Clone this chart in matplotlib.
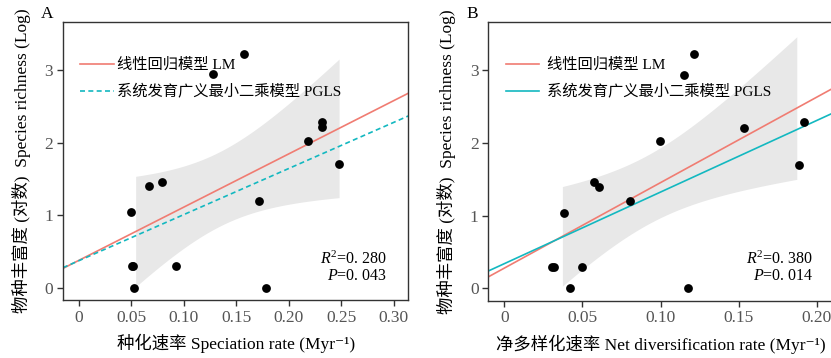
import numpy as np
import matplotlib
matplotlib.use("Agg")
import matplotlib.pyplot as plt
from matplotlib.lines import Line2D

plt.rcParams['font.family'] = ['Liberation Serif', 'Noto Sans CJK SC', 'DejaVu Serif']
plt.rcParams['mathtext.fontset'] = 'custom'
plt.rcParams['mathtext.rm'] = 'Liberation Serif'
plt.rcParams['mathtext.it'] = 'Liberation Serif:italic'

# ---- data ----
richness_log = [1.04, 0.30, 0.30, 0.00, 1.40, 1.46, 0.30, 2.94, 3.22, 1.20, 0.00, 2.02, 2.29, 2.21, 1.70]
speciation_rate = [0.0493, 0.0506, 0.0519, 0.0528, 0.0668, 0.0795, 0.0923, 0.1276, 0.1575,
                   0.1712, 0.1785, 0.2179, 0.2316, 0.2316, 0.2475]

richness_log_b = [0.30, 0.30, 1.04, 0.00, 0.30, 1.46, 1.40, 1.20, 2.02, 2.94, 0.00, 3.22, 2.21, 1.70, 2.29]
net_div_rate = [0.0306, 0.0319, 0.0383, 0.0419, 0.0498, 0.0577, 0.0604, 0.0802, 0.0994,
                0.1149, 0.1179, 0.1217, 0.1536, 0.1889, 0.1915]

# PGLS fits (intercept, slope)
pgls_a = (0.373, 6.35)
pgls_b = (0.339, 9.85)
# x-range of confidence band as drawn
band_range_a = (0.054, 0.248)
band_range_b = (0.0372, 0.1872)

stats_a = ("0. 280", "0. 043")
stats_b = ("0. 380", "0. 014")

xticks_a = [0, 0.05, 0.10, 0.15, 0.20, 0.25, 0.30]
xticklabels_a = ["0", "0.05", "0.10", "0.15", "0.20", "0.25", "0.30"]
xticks_b = [0, 0.05, 0.10, 0.15, 0.20]
xticklabels_b = ["0", "0.05", "0.10", "0.15", "0.20"]
yticks = [0, 1, 2, 3]
yticklabels = ["0", "1", "2", "3"]

leg_lm = "线性回归模型 LM"
leg_pgls = "系统发育广义最小二乘模型 PGLS"
ylabel = "物种丰富度 (对数)  Species richness (Log)"
xlabel_a = "种化速率 Speciation rate (Myr⁻¹)"
xlabel_b = "净多样化速率 Net diversification rate (Myr⁻¹)"

RED = "#F07C72"
CYAN = "#13B8C0"
BAND = "#E8E8E8"
SPINE = "#333333"
TICKLAB = "#555555"

T975 = 2.1604  # t quantile df=13


def panel(ax, x, y, pgls, band_range, xlim, xticks, xtl, xlabel, stats, dashed, leg_pad):
    x = np.asarray(x)
    y = np.asarray(y)
    n = len(x)
    slope, inter = np.polyfit(x, y, 1)
    resid = y - (inter + slope * x)
    sigma = np.sqrt(np.sum(resid ** 2) / (n - 2))
    sxx = np.sum((x - x.mean()) ** 2)
    xb = np.linspace(band_range[0], band_range[1], 200)
    fb = inter + slope * xb
    se = sigma * np.sqrt(1.0 / n + (xb - x.mean()) ** 2 / sxx)
    ax.fill_between(xb, fb - T975 * se, fb + T975 * se, color=BAND, lw=0, zorder=1)

    xl = np.array(xlim)
    ax.plot(xl, inter + slope * xl, color=RED, lw=1.2, zorder=2)
    if dashed:
        ax.plot(xl, pgls[0] + pgls[1] * xl, color=CYAN, lw=1.2, dashes=(3, 2), zorder=2)
        h2 = Line2D([], [], color=CYAN, lw=1.2, dashes=(3, 2))
    else:
        ax.plot(xl, pgls[0] + pgls[1] * xl, color=CYAN, lw=1.2, zorder=2)
        h2 = Line2D([], [], color=CYAN, lw=1.2)

    ax.scatter(x, y, s=40, color="black", zorder=3, linewidths=0)

    ax.set_xlim(xlim)
    ax.set_ylim(-0.17, 3.66)
    ax.set_xticks(xticks)
    ax.set_xticklabels(xtl)
    ax.set_yticks(yticks)
    ax.set_yticklabels(yticklabels)
    ax.tick_params(axis='both', direction='out', length=4, width=1.0, color=SPINE,
                   labelsize=12.5, labelcolor=TICKLAB, pad=3)
    for s in ax.spines.values():
        s.set_color(SPINE)
        s.set_linewidth(1.0)
    ax.set_xlabel(xlabel, fontsize=12.5, labelpad=6)
    ax.set_ylabel(ylabel, fontsize=12.5, labelpad=10)

    handles = [Line2D([], [], color=RED, lw=1.2), h2]
    ax.legend(handles, [leg_lm, leg_pgls], loc='upper left', bbox_to_anchor=(0.05, 0.872),
              frameon=False, fontsize=11, handlelength=2.2, handletextpad=leg_pad,
              labelspacing=0.8, borderpad=0, borderaxespad=0)

    ax.text(0.94, 0.148, r"$R^{2}$=" + stats[0], transform=ax.transAxes, ha='right',
            va='center', fontsize=11.5)
    ax.text(0.94, 0.088, r"$P$=" + stats[1], transform=ax.transAxes, ha='right',
            va='center', fontsize=11.5)


fig = plt.figure(figsize=(8.31, 3.58), dpi=100)
ax1 = fig.add_axes([0.0758, 0.162, 0.4155, 0.776])
ax2 = fig.add_axes([0.5876, 0.160, 0.416, 0.778])

panel(ax1, speciation_rate, richness_log, pgls_a, band_range_a, (-0.0153, 0.314),
      xticks_a, xticklabels_a, xlabel_a, stats_a, True, 0.2)
panel(ax2, net_div_rate, richness_log_b, pgls_b, band_range_b, (-0.0102, 0.211),
      xticks_b, xticklabels_b, xlabel_b, stats_b, False, 0.5)

fig.text(47 / 831, 1 - 14 / 358, "A", fontsize=12.5, ha='center', va='center')
fig.text(472 / 831, 1 - 14 / 358, "B", fontsize=12.5, ha='center', va='center')

fig.savefig("out.png", dpi=100)
